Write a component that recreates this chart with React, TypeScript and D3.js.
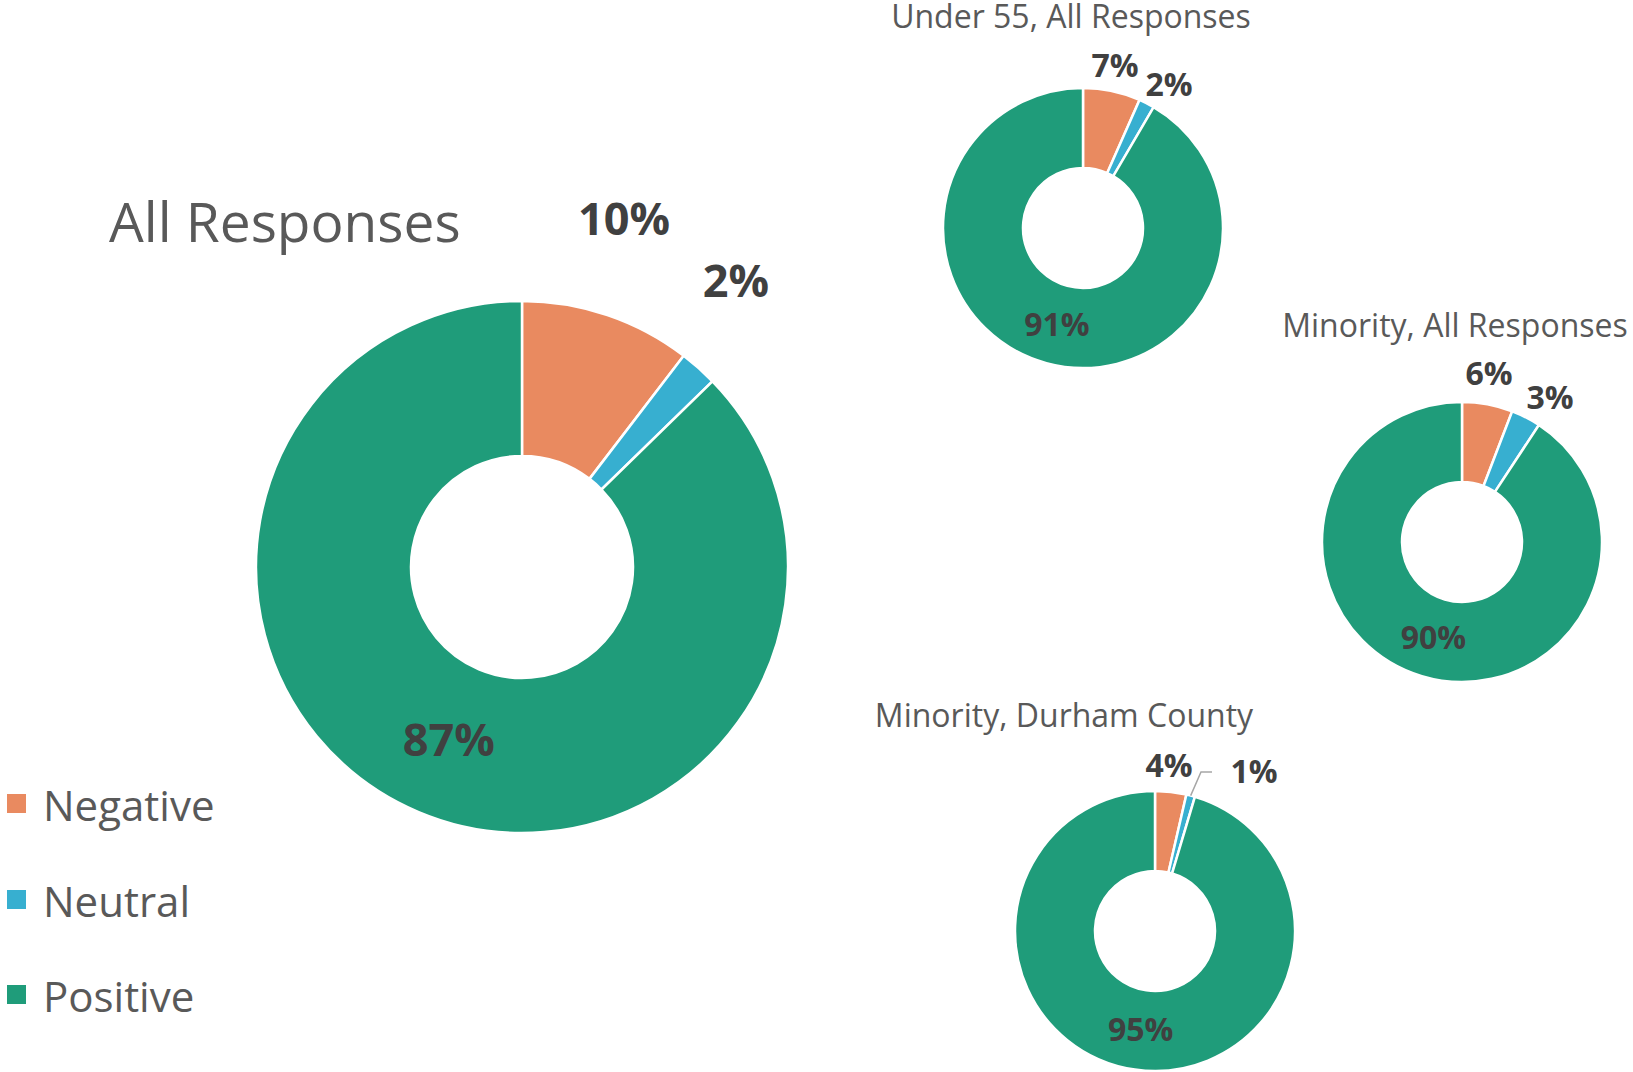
import React from "react";
import * as d3 from "d3";

// ---- data ----
const categories = ["Negative", "Neutral", "Positive"];
const allResponses = [10.4, 2.3, 87.3];
const under55 = [6.6, 1.8, 91.4];
const minorityAll = [5.8, 3.4, 90.2];
const minorityDurham = [3.6, 1.0, 95.4];
const chartTitles = ["All Responses", "Under 55, All Responses", "Minority, All Responses", "Minority, Durham County"];

// ---- styles / layout ----
const colors = ["#E98A60", "#37AFD0", "#1F9C7A"];
const W = 1633, H = 1072;
const FONT = "'Open Sans', 'Noto Sans', sans-serif";

type Layout = {
  values: number[];
  title: string;
  cx: number; cy: number; rOut: number; rIn: number;
  titleX: number; titleY: number; titleSize: number; titleAnchor: string;
  labelSize: number;
  outside: ([number, number] | null)[];
  leader?: number; // index of slice with leader line
};

const charts: Layout[] = [
  { values: allResponses, title: chartTitles[0], cx: 522, cy: 567, rOut: 266, rIn: 111,
    titleX: 109, titleY: 242, titleSize: 55, titleAnchor: "start", labelSize: 45,
    outside: [[102, -332], [214, -270], null] },
  { values: under55, title: chartTitles[1], cx: 1083, cy: 228, rOut: 140, rIn: 60,
    titleX: 1071, titleY: 28, titleSize: 32, titleAnchor: "middle", labelSize: 32,
    outside: [[32, -151], [86, -132], null] },
  { values: minorityAll, title: chartTitles[2], cx: 1462, cy: 542, rOut: 140, rIn: 60,
    titleX: 1455, titleY: 337, titleSize: 32, titleAnchor: "middle", labelSize: 32,
    outside: [[27, -157], [88, -133], null] },
  { values: minorityDurham, title: chartTitles[3], cx: 1155, cy: 931, rOut: 140, rIn: 60,
    titleX: 1064, titleY: 727, titleSize: 32, titleAnchor: "middle", labelSize: 32,
    outside: [[14, -154], [99, -148], null], leader: 1 },
];

function Donut({ c }: { c: Layout }) {
  const pie = d3.pie<number>().sort(null).value((d) => d);
  const arcs = pie(c.values);
  const arc = d3.arc<d3.PieArcDatum<number>>().innerRadius(c.rIn).outerRadius(c.rOut);
  return (
    <g>
      <text x={c.titleX} y={c.titleY} fontSize={c.titleSize} fill="#595959"
        textAnchor={c.titleAnchor as any} fontFamily={FONT}>{c.title}</text>
      <g transform={`translate(${c.cx},${c.cy})`}>
        {arcs.map((a, i) => (
          <path key={i} d={arc(a) || ""} fill={colors[i]} stroke="#fff" strokeWidth={2.5} strokeLinejoin="miter" />
        ))}
        {arcs.map((a, i) => {
          const label = `${Math.round(a.data)}%`;
          const off = c.outside[i];
          if (off) {
            return (
              <text key={"l" + i} x={off[0]} y={off[1]} fontSize={c.labelSize} fontWeight={700}
                fill="#404040" textAnchor="middle" fontFamily={FONT}>{label}</text>
            );
          }
          const [x, y] = arc.centroid(a);
          return (
            <text key={"l" + i} x={x} y={y} dy="0.35em" fontSize={c.labelSize} fontWeight={700}
              fill="#404040" textAnchor="middle" fontFamily={FONT}>{label}</text>
          );
        })}
        {c.leader !== undefined && (() => {
          const a = arcs[c.leader];
          const mid = (a.startAngle + a.endAngle) / 2;
          const p0: [number, number] = [Math.sin(mid) * c.rOut, -Math.cos(mid) * c.rOut];
          const off = c.outside[c.leader]!;
          const yL = off[1] - 11;
          const xEnd = off[0] - 42;
          const p1: [number, number] = [xEnd - 11, yL];
          const line = d3.line()([p0, p1, [xEnd, yL]]);
          return <path d={line || ""} fill="none" stroke="#A6A6A6" strokeWidth={1.5} />;
        })()}
      </g>
    </g>
  );
}

export default function App() {
  const legendY = [821, 917, 1012];
  return (
    <svg width={W} height={H} style={{ position: "absolute", left: 0, top: 0, background: "#fff" }}>
      {charts.map((c, i) => <Donut key={i} c={c} />)}
      {categories.map((cat, i) => (
        <g key={cat}>
          <rect x={7} y={legendY[i] - 27} width={19} height={19} fill={colors[i]} />
          <text x={43} y={legendY[i]} fontSize={42} fill="#595959" fontFamily={FONT}>{cat}</text>
        </g>
      ))}
    </svg>
  );
}
